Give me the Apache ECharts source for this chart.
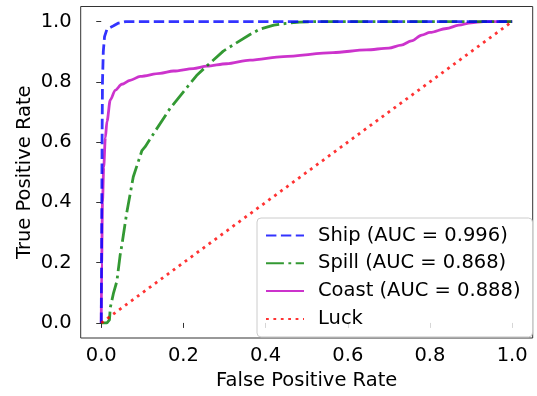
<!DOCTYPE html>
<html>
<head>
<meta charset="utf-8">
<script src="https://cdn.jsdelivr.net/npm/echarts@6/dist/echarts.min.js"></script>
<style>html,body{margin:0;padding:0;background:#fff;}#c{width:537px;height:396px;}</style>
</head>
<body>
<div id="c"></div>
<script>
const tickValues = [0, 0.2, 0.4, 0.6, 0.8, 1.0];
const seriesNames = ['Ship (AUC = 0.996)', 'Spill (AUC = 0.868)', 'Coast (AUC = 0.888)', 'Luck'];

const shipFpr = [0, 0.001, 0.002, 0.003, 0.005, 0.008, 0.014, 0.03, 0.042, 0.06, 1.0];
const shipTpr = [0, 0.3, 0.6, 0.8, 0.9, 0.95, 0.975, 0.986, 0.995, 1.0, 1.0];

const spillFpr = [0, 0.014, 0.02, 0.022, 0.03, 0.038, 0.046, 0.05, 0.062, 0.078, 0.099, 0.107, 0.133, 0.168, 0.2, 0.232, 0.257, 0.297, 0.33, 0.362, 0.386, 0.42, 0.45, 0.483, 0.52, 1.0];
const spillTpr = [0, 0, 0.01, 0.051, 0.1, 0.138, 0.225, 0.257, 0.365, 0.485, 0.572, 0.585, 0.64, 0.713, 0.767, 0.821, 0.853, 0.902, 0.93, 0.957, 0.975, 0.988, 0.994, 0.998, 1.0, 1.0];

const coastFpr = [0, 0.001, 0.003, 0.006, 0.01, 0.014, 0.022, 0.034, 0.05, 0.07, 0.095, 0.143, 0.176, 0.224, 0.257, 0.305, 0.362, 0.443, 0.564, 0.645, 0.7, 0.73, 0.755, 0.78, 0.8, 0.84, 0.87, 0.9, 0.93, 1.0];
const coastTpr = [0, 0.2, 0.4, 0.517, 0.615, 0.669, 0.74, 0.772, 0.792, 0.805, 0.818, 0.828, 0.836, 0.844, 0.852, 0.86, 0.872, 0.884, 0.897, 0.906, 0.912, 0.922, 0.936, 0.955, 0.964, 0.977, 0.988, 0.996, 1.0, 1.0];

const luckFpr = [0, 1];
const luckTpr = [0, 1];

const zip = (a, b) => a.map((v, i) => [v, b[i]]);
const FONT = 'DejaVu Sans';
const FS = 19.5;
const LW = 2.8;

const chart = echarts.init(document.getElementById('c'), null, {renderer: 'canvas'});
chart.setOption({
  animation: false,
  backgroundColor: '#fff',
  grid: {left: 80.7, right: 4.3, top: 6.5, bottom: 51.5, show: true, borderColor: '#333', borderWidth: 1, backgroundColor: 'transparent'},
  xAxis: {
    type: 'value', min: -0.05, max: 1.05,
    name: 'False Positive Rate', nameLocation: 'middle', nameGap: 33, nameMoveOverlap: false,
    nameTextStyle: {fontFamily: FONT, fontSize: FS, color: '#000'},
    axisLine: {show: false},
    axisTick: {show: true, inside: false, length: 5, lineStyle: {color: '#333'}, customValues: tickValues},
    axisLabel: {fontFamily: FONT, fontSize: FS, color: '#000', margin: 8, customValues: tickValues, formatter: v => v.toFixed(1)},
    splitLine: {show: false}
  },
  yAxis: {
    type: 'value', min: -0.05, max: 1.05,
    name: 'True Positive Rate', nameLocation: 'middle', nameGap: 46, nameRotate: 90, nameMoveOverlap: false,
    nameTextStyle: {fontFamily: FONT, fontSize: FS, color: '#000'},
    axisLine: {show: false},
    axisTick: {show: true, inside: false, length: 5, lineStyle: {color: '#333'}, customValues: tickValues},
    axisLabel: {fontFamily: FONT, fontSize: FS, color: '#000', margin: 9, customValues: tickValues, formatter: v => v.toFixed(1)},
    splitLine: {show: false}
  },
  legend: {
    orient: 'vertical', left: 257, top: 218,
    padding: [7.5, 12, 8, 8], itemGap: 7.8, itemWidth: 38, itemHeight: 14,
    backgroundColor: 'rgba(255,255,255,0.8)', borderColor: '#cccccc', borderWidth: 1, borderRadius: 4,
    itemStyle: {opacity: 0},
    textStyle: {fontFamily: FONT, fontSize: FS, color: '#000', padding: [0, 0, 0, 9]},
    data: seriesNames
  },
  series: [
    {name: seriesNames[0], type: 'line', data: zip(shipFpr, shipTpr), symbol: 'none', z: 4,
     lineStyle: {color: 'rgba(0,0,255,0.8)', width: LW, type: [10.4, 4.5]}, itemStyle: {color: 'rgba(0,0,255,0.8)'}},
    {name: seriesNames[1], type: 'line', data: zip(spillFpr, spillTpr), symbol: 'none', z: 3,
     lineStyle: {color: 'rgba(0,128,0,0.8)', width: LW, type: [17.9, 4.5, 2.8, 4.5]}, itemStyle: {color: 'rgba(0,128,0,0.8)'}},
    {name: seriesNames[2], type: 'line', data: zip(coastFpr, coastTpr), symbol: 'none', z: 2, smooth: 0.3, smoothMonotone: 'x',
     lineStyle: {color: 'rgba(191,0,191,0.8)', width: LW, type: 'solid'}, itemStyle: {color: 'rgba(191,0,191,0.8)'}},
    {name: seriesNames[3], type: 'line', data: zip(luckFpr, luckTpr), symbol: 'none', z: 5,
     lineStyle: {color: 'rgba(255,0,0,0.8)', width: LW, type: [2.8, 4.6]}, itemStyle: {color: 'rgba(255,0,0,0.8)'}}
  ]
});
</script>
</body>
</html>
